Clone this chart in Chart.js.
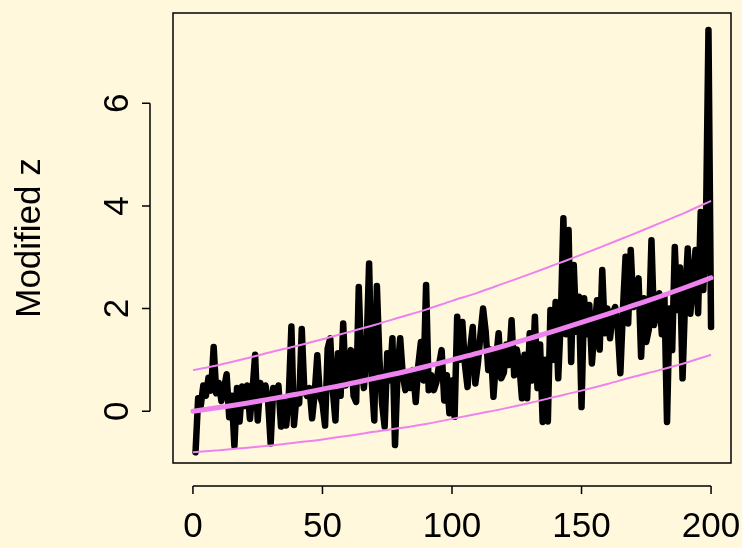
<!DOCTYPE html>
<html>
<head>
<meta charset="utf-8">
<script src="https://cdn.jsdelivr.net/npm/chart.js@4.4.0/dist/chart.umd.min.js"></script>
<style>
    html, body { margin: 0; padding: 0; background: #FFF8DC; }
</style>
</head>
<body>
<canvas id="myChart" width="742" height="548"></canvas>
<script>
// modified z per observation (1..200)
const zValues = [
    -0.8, 0.25, 0.1, 0.5, 0.3, 0.65, 0.4, 1.25, 0.35, 0.55,
    0.2, 0.45, 0.72, -0.12, 0.3, -0.68, 0.45, -0.2, 0.48, 0.1,
    0.5, -0.15, 0.4, 1.1, -0.18, 0.55, 0.3, 0.5, 0.2, -0.63,
    0.45, 0.3, 0.5, -0.3, 0.2, -0.28, 0.3, 1.65, -0.27, 0.3,
    0.15, 1.6, 0.4, 0.3, 0.45, -0.14, 0.35, 1.09, 0.3, 0.15,
    -0.28, 1.22, 1.42, 0.4, -0.18, 1.13, 0.3, 1.71, 0.5, 0.8,
    1.19, 0.3, 0.18, 2.42, 0.9, 0.45, 1.2, 2.88, 0.6, -0.18,
    2.44, 1.0, 0.15, -0.3, 1.13, 0.6, 1.42, -0.66, 0.8, 1.42,
    0.7, 0.41, 0.75, 0.45, 0.8, 0.18, 0.9, 1.35, 0.6, 2.46,
    0.41, 0.7, 0.41, 0.57, 0.9, 1.19, 0.21, 0.7, -0.04, 0.6,
    -0.11, 1.84, 1.0, 1.74, 0.9, 0.47, 1.2, 1.64, 0.54, 0.93,
    1.5, 2.0, 1.55, 0.8, 1.2, 0.28, 1.0, 1.52, 0.64, 0.75,
    1.3, 0.9, 1.77, 0.7, 1.2, 0.9, 0.25, 1.1, 0.25, 1.52,
    0.6, 1.84, 0.45, 1.3, -0.21, 1.0, -0.2, 1.97, 1.0, 2.13,
    0.64, 1.8, 3.76, 1.5, 3.53, 0.96, 2.85, 1.55, 2.23, 0.08,
    2.2, 1.5, 2.07, 0.93, 1.6, 2.16, 1.2, 2.75, 1.52, 2.0,
    1.42, 1.9, 2.03, 1.6, 0.74, 2.0, 3.01, 1.71, 3.14, 2.03,
    2.4, 2.59, 1.06, 2.2, 1.35, 1.6, 3.33, 1.68, 2.0, 2.3,
    1.5, 2.23, -0.21, 2.0, 1.19, 3.2, 1.97, 2.8, 0.64, 2.2,
    3.17, 1.9, 2.5, 3.14, 1.91, 3.88, 2.36, 3.5, 7.43, 1.64
];

// fitted curve and its band, read every 10 observations
const curveX = [0, 10, 20, 30, 40, 50, 60, 70, 80, 90, 100, 110, 120, 130, 140, 150, 160, 170, 180, 190, 200];
const centre = [0, 0.07, 0.15, 0.24, 0.33, 0.43, 0.53, 0.64, 0.75, 0.87, 1.0, 1.13, 1.27, 1.42, 1.57, 1.73, 1.89, 2.06, 2.23, 2.41, 2.6];
const upper = [0.8, 0.9, 1.02, 1.15, 1.27, 1.4, 1.54, 1.68, 1.83, 1.98, 2.15, 2.31, 2.49, 2.67, 2.86, 3.05, 3.25, 3.45, 3.66, 3.87, 4.1];
const lower = [-0.8, -0.76, -0.72, -0.67, -0.61, -0.55, -0.48, -0.4, -0.33, -0.25, -0.15, -0.05, 0.05, 0.16, 0.28, 0.4, 0.53, 0.67, 0.8, 0.94, 1.1];

const xTicks = [0, 50, 100, 150, 200];
const yTicks = [0, 2, 4, 6];
const yTitle = 'Modified z';

const FONT = '35px "Liberation Sans", Arial, sans-serif';

const toPoints = (xs, ys) => ys.map((y, i) => ({ x: xs[i], y: y }));

const bgPlugin = {
    id: 'bg',
    beforeDraw(chart) {
        const ctx = chart.ctx;
        ctx.save();
        ctx.fillStyle = '#FFF8DC';
        ctx.fillRect(0, 0, chart.width, chart.height);
        ctx.restore();
    }
};

// R style box, axes and labels
const axesPlugin = {
    id: 'raxes',
    afterDraw(chart) {
        const ctx = chart.ctx;
        const a = chart.chartArea;
        const xs = chart.scales.x;
        const ys = chart.scales.y;
        ctx.save();
        ctx.strokeStyle = '#000';
        ctx.lineWidth = 1.5;
        ctx.strokeRect(a.left, a.top, a.right - a.left, a.bottom - a.top);

        // x axis
        const axY = 486;
        ctx.beginPath();
        ctx.moveTo(xs.getPixelForValue(xTicks[0]), axY);
        ctx.lineTo(xs.getPixelForValue(xTicks[xTicks.length - 1]), axY);
        xTicks.forEach(t => {
            const px = xs.getPixelForValue(t);
            ctx.moveTo(px, axY);
            ctx.lineTo(px, axY + 8);
        });
        ctx.stroke();
        ctx.fillStyle = '#000';
        ctx.font = FONT;
        ctx.textAlign = 'center';
        ctx.textBaseline = 'middle';
        xTicks.forEach(t => {
            ctx.fillText(String(t), xs.getPixelForValue(t), 527);
        });

        // y axis
        const axX = 150;
        ctx.beginPath();
        ctx.moveTo(axX, ys.getPixelForValue(yTicks[0]));
        ctx.lineTo(axX, ys.getPixelForValue(yTicks[yTicks.length - 1]));
        yTicks.forEach(t => {
            const py = ys.getPixelForValue(t);
            ctx.moveTo(axX, py);
            ctx.lineTo(axX - 8, py);
        });
        ctx.stroke();
        yTicks.forEach(t => {
            ctx.save();
            ctx.translate(118, ys.getPixelForValue(t));
            ctx.rotate(-Math.PI / 2);
            ctx.fillText(String(t), 0, 0);
            ctx.restore();
        });

        ctx.save();
        ctx.translate(30, (a.top + a.bottom) / 2);
        ctx.rotate(-Math.PI / 2);
        ctx.fillText(yTitle, 0, 0);
        ctx.restore();
        ctx.restore();
    }
};

const data = {
    datasets: [
        {
            data: toPoints(zValues.map((v, i) => i + 1), zValues),
            borderColor: '#000000',
            borderWidth: 6.5,
            borderCapStyle: 'round',
            borderJoinStyle: 'round',
            pointRadius: 0,
            tension: 0,
            order: 3
        },
        {
            data: toPoints(curveX, centre),
            borderColor: '#EE82EE',
            borderWidth: 5,
            borderCapStyle: 'round',
            pointRadius: 0,
            cubicInterpolationMode: 'monotone',
            order: 1
        },
        {
            data: toPoints(curveX, upper),
            borderColor: '#EE82EE',
            borderWidth: 2,
            pointRadius: 0,
            cubicInterpolationMode: 'monotone',
            order: 2
        },
        {
            data: toPoints(curveX, lower),
            borderColor: '#EE82EE',
            borderWidth: 2,
            pointRadius: 0,
            cubicInterpolationMode: 'monotone',
            order: 2
        }
    ]
};

const options = {
    responsive: false,
    animation: false,
    layout: {
        padding: { left: 173, right: 11, top: 13, bottom: 85 }
    },
    scales: {
        x: { type: 'linear', min: -7.7, max: 207.7, display: false },
        y: { type: 'linear', min: -1.01, max: 7.76, display: false }
    },
    plugins: {
        legend: { display: false },
        tooltip: { enabled: false }
    }
};

const myChart = new Chart(
    document.getElementById('myChart'),
    { type: 'line', data: data, options: options, plugins: [bgPlugin, axesPlugin] }
);
</script>
</body>
</html>
